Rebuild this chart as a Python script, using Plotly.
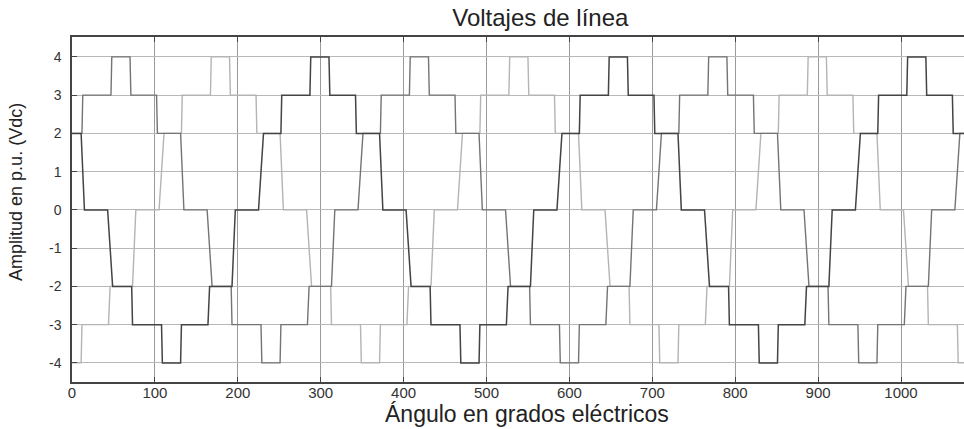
import plotly.graph_objects as go

# ---- data ----
# Line voltage 1 (medium grey)
v1_x = [-25,
        -15, -12, -9, 12, 13, 47, 48, 70, 71, 102, 103, 131, 133, 135, 163, 166, 169, 192, 193, 228, 229, 251, 252, 284, 286, 313, 315, 317,
        345, 348, 351, 372, 373, 407, 408, 430, 431, 462, 463, 491, 493, 495, 523, 526, 529, 552, 553, 588, 589, 611, 612, 644, 646, 673, 675, 677,
        705, 708, 711, 732, 733, 767, 768, 790, 791, 822, 823, 851, 853, 855, 883, 886, 889, 912, 913, 948, 949, 971, 972, 1004, 1006, 1033, 1035, 1037,
        1065, 1068, 1071, 1092]
v1_y = [0,
        0, 1, 2, 2, 3, 3, 4, 4, 3, 3, 2, 2, 1, 0, 0, -1, -2, -2, -3, -3, -4, -4, -3, -3, -2, -2, -1, 0,
        0, 1, 2, 2, 3, 3, 4, 4, 3, 3, 2, 2, 1, 0, 0, -1, -2, -2, -3, -3, -4, -4, -3, -3, -2, -2, -1, 0,
        0, 1, 2, 2, 3, 3, 4, 4, 3, 3, 2, 2, 1, 0, 0, -1, -2, -2, -3, -3, -4, -4, -3, -3, -2, -2, -1, 0,
        0, 1, 2, 2]

# Line voltage 2 (light grey)
v2_x = [-48, -47, -12, -11, 11, 12, 44, 46, 73, 75, 77,
        105, 108, 111, 132, 133, 167, 168, 190, 191, 222, 223, 251, 253, 255, 283, 286, 289, 312, 313, 348, 349, 371, 372, 404, 406, 433, 435, 437,
        465, 468, 471, 492, 493, 527, 528, 550, 551, 582, 583, 611, 613, 615, 643, 646, 649, 672, 673, 708, 709, 731, 732, 764, 766, 793, 795, 797,
        825, 828, 831, 852, 853, 887, 888, 910, 911, 942, 943, 971, 973, 975, 1003, 1006, 1009, 1032, 1033, 1068, 1069, 1091]
v2_y = [-2, -3, -3, -4, -4, -3, -3, -2, -2, -1, 0,
        0, 1, 2, 2, 3, 3, 4, 4, 3, 3, 2, 2, 1, 0, 0, -1, -2, -2, -3, -3, -4, -4, -3, -3, -2, -2, -1, 0,
        0, 1, 2, 2, 3, 3, 4, 4, 3, 3, 2, 2, 1, 0, 0, -1, -2, -2, -3, -3, -4, -4, -3, -3, -2, -2, -1, 0,
        0, 1, 2, 2, 3, 3, 4, 4, 3, 3, 2, 2, 1, 0, 0, -1, -2, -2, -3, -3, -4, -4]

# Line voltage 3 (dark)
v3_x = [-18, -17, 11, 13, 15, 43, 46, 49, 72, 73, 108, 109, 131, 132, 164, 166, 193, 195, 197,
        225, 228, 231, 252, 253, 287, 288, 310, 311, 342, 343, 371, 373, 375, 403, 406, 409, 432, 433, 468, 469, 491, 492, 524, 526, 553, 555, 557,
        585, 588, 591, 612, 613, 647, 648, 670, 671, 702, 703, 731, 733, 735, 763, 766, 769, 792, 793, 828, 829, 851, 852, 884, 886, 913, 915, 917,
        945, 948, 951, 972, 973, 1007, 1008, 1030, 1031, 1062, 1063, 1091]
v3_y = [3, 2, 2, 1, 0, 0, -1, -2, -2, -3, -3, -4, -4, -3, -3, -2, -2, -1, 0,
        0, 1, 2, 2, 3, 3, 4, 4, 3, 3, 2, 2, 1, 0, 0, -1, -2, -2, -3, -3, -4, -4, -3, -3, -2, -2, -1, 0,
        0, 1, 2, 2, 3, 3, 4, 4, 3, 3, 2, 2, 1, 0, 0, -1, -2, -2, -3, -3, -4, -4, -3, -3, -2, -2, -1, 0,
        0, 1, 2, 2, 3, 3, 4, 4, 3, 3, 2, 2]

x_ticks = [0, 100, 200, 300, 400, 500, 600, 700, 800, 900, 1000]
y_ticks = [-4, -3, -2, -1, 0, 1, 2, 3, 4]

title_text = "Voltajes de línea"
x_title = "Ángulo en grados eléctricos"
y_title = "Amplitud en p.u. (Vdc)"

FONT = "Liberation Sans, Arial, sans-serif"

fig = go.Figure()
fig.add_trace(go.Scatter(x=v2_x, y=v2_y, mode="lines", line=dict(color="#b4b4b4", width=1.4), name="V2"))
fig.add_trace(go.Scatter(x=v1_x, y=v1_y, mode="lines", line=dict(color="#747474", width=1.4), name="V1"))
fig.add_trace(go.Scatter(x=v3_x, y=v3_y, mode="lines", line=dict(color="#444444", width=1.5), name="V3"))

fig.update_layout(
    width=964, height=429,
    margin=dict(l=72, r=0, t=37, b=47),
    paper_bgcolor="white", plot_bgcolor="white",
    showlegend=False,
    font=dict(family=FONT, color="#222"),
    title=dict(text=title_text, x=0.525, xref="paper", xanchor="center",
               y=0.958, yref="container", yanchor="middle",
               font=dict(size=24, family=FONT, color="#222")),
)
fig.update_xaxes(
    range=[0, 1076], tickvals=x_ticks, ticktext=[str(v) for v in x_ticks],
    showgrid=True, gridcolor="#9a9a9a", gridwidth=1,
    showline=True, linecolor="#444", linewidth=1.5, mirror="ticks",
    ticks="inside", ticklen=5, tickcolor="#444",
    tickfont=dict(size=15, family=FONT, color="#333"),
    ticklabelstandoff=-4,
    zeroline=False,
)
fig.update_yaxes(
    range=[-4.5, 4.52], tickvals=y_ticks, ticktext=[str(v) for v in y_ticks],
    showgrid=True, gridcolor="#b8b8b8", gridwidth=1,
    showline=True, linecolor="#444", linewidth=1.5, mirror=False,
    ticks="inside", ticklen=5, tickcolor="#444",
    tickfont=dict(size=14, family=FONT, color="#333"),
    ticklabelstandoff=6,
    zeroline=False,
)
fig.add_annotation(text=x_title, xref="paper", yref="paper", x=0.51, y=-0.093,
                   xanchor="center", yanchor="middle", showarrow=False,
                   font=dict(size=23, family=FONT, color="#222"))
fig.add_annotation(text=y_title, xref="paper", yref="paper", x=-0.062, y=0.55,
                   xanchor="center", yanchor="middle", showarrow=False, textangle=-90,
                   font=dict(size=18, family=FONT, color="#222"))

fig.write_html("out.html")
